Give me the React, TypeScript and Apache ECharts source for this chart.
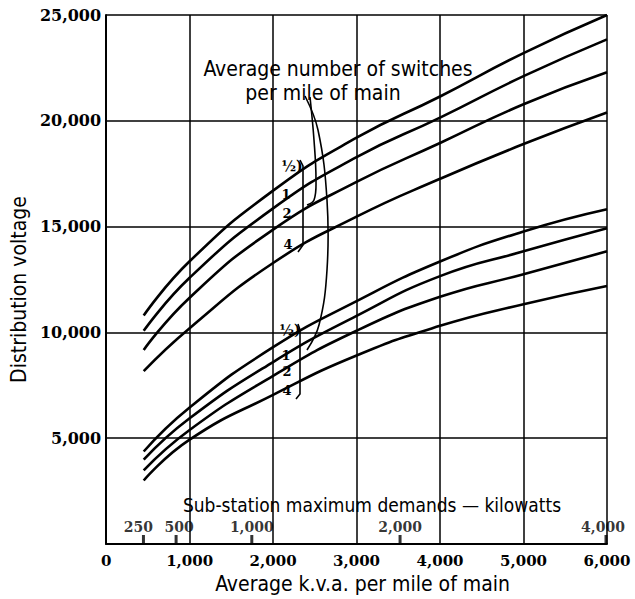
import React, { useEffect, useRef } from "react";
import * as echarts from "echarts";

// x positions (Average k.v.a. per mile of main)
const kva = [450, 1000, 2000, 3000, 4000, 5000, 6000];
// upper family of curves
const upperHalf = [10800, 13360, 16700, 19200, 21150, 23200, 25000];
const upperOne = [10075, 12580, 15860, 18280, 20150, 22110, 23850];
const upperTwo = [9170, 11640, 14860, 17110, 18950, 20780, 22290];
const upperFour = [8170, 10200, 13280, 15470, 17260, 18900, 20390];
// lower family of curves
const lowerHalf = [4372, 6450, 9300, 11480, 13350, 14770, 15820];
const lowerOne = [3986, 5940, 8600, 10780, 12660, 13830, 14920];
const lowerTwo = [3482, 5390, 7950, 10080, 11680, 12750, 13830];
const lowerFour = [3000, 4930, 7050, 8910, 10310, 11330, 12190];

// secondary scale: sub-station maximum demands (kW) placed at k.v.a. positions
const kwTickLabels = ["250", "500", "1,000", "2,000", "4,000"];
const kwTickKva = [447, 838, 1745, 3521, 5988];
const kwLabelShift = [-5, 3, 0, 0, -3];

const xTicks = { min: 0, max: 6000, interval: 1000 };
const yTicks = { min: 0, max: 25000, interval: 5000 };

const NUM_FONT = "'DejaVu Serif', serif";
const TXT_FONT = "'DejaVu Sans Condensed', 'Liberation Sans Narrow', 'DejaVu Sans', sans-serif";

const fmt = (v: number) => v.toLocaleString("en-US");

export default function App() {
  const ref = useRef<HTMLDivElement>(null);
  useEffect(() => {
    document.body.style.margin = "0";
    const chart = echarts.init(ref.current!, undefined, { renderer: "svg" });
    const families = [upperHalf, upperOne, upperTwo, upperFour, lowerHalf, lowerOne, lowerTwo, lowerFour];
    const lineSeries = families.map((vals) => ({
      type: "line",
      data: kva.map((x, i) => [x, vals[i]]),
      smooth: 0.5,
      symbol: "none",
      lineStyle: { color: "#000", width: 2.6 },
      z: 5,
    }));
    const kwSeries = {
      type: "scatter",
      clip: false,
      data: kwTickKva.map((x, i) => ({
        value: [x, 0],
        name: kwTickLabels[i],
        label: { offset: [kwLabelShift[i], 0] },
      })),
      symbol: "rect",
      symbolSize: [3, 9],
      symbolOffset: [0, -4.5],
      itemStyle: { color: "#000" },
      label: {
        show: true,
        position: "top",
        distance: 1,
        formatter: (p: any) => p.name,
        color: "#000",
        fontFamily: NUM_FONT,
        fontWeight: "bold",
        fontSize: 14,
      },
      z: 6,
    };
    const txt = (text: string, x: number, y: number, size: number, align = "center", weight = "normal", family = TXT_FONT) => ({
      type: "text",
      x,
      y,
      z: 20,
      style: {
        text,
        fill: "#000",
        fontSize: size,
        fontFamily: family,
        fontWeight: weight,
        textAlign: align,
        textVerticalAlign: "middle",
      },
    });
    const line = (points: number[][], smooth = 0) => ({
      type: "polyline",
      z: 20,
      shape: { points, smooth },
      style: { stroke: "#000", lineWidth: 1.6, fill: "none" },
    });
    chart.setOption({
      animation: false,
      backgroundColor: "#fff",
      grid: { left: 106, right: 28, top: 15, bottom: 51 },
      xAxis: {
        type: "value",
        ...xTicks,
        name: "Average k.v.a. per mile of main",
        nameLocation: "middle",
        nameGap: 29,
        nameTextStyle: { color: "#000", fontFamily: TXT_FONT, fontSize: 21, padding: [0, 0, 0, 12] },
        axisLine: { show: true, lineStyle: { color: "#000", width: 2 } },
        axisTick: { show: false },
        axisLabel: {
          formatter: (v: number) => fmt(v),
          color: "#000",
          fontFamily: NUM_FONT,
          fontWeight: "bold",
          fontSize: 15,
          margin: 9,
        },
        splitLine: { show: true, lineStyle: { color: "#000", width: 1.5 } },
      },
      yAxis: {
        type: "value",
        ...yTicks,
        name: "Distribution voltage",
        nameLocation: "middle",
        nameRotate: 90,
        nameGap: 62,
        nameTextStyle: { color: "#000", fontFamily: TXT_FONT, fontSize: 21, padding: [0, 20, 0, 0] },
        axisLine: { show: true, lineStyle: { color: "#000", width: 2 } },
        axisTick: { show: false },
        axisLabel: {
          formatter: (v: number) => (v === 0 ? "" : fmt(v)),
          color: "#000",
          fontFamily: NUM_FONT,
          fontWeight: "bold",
          fontSize: 16,
          margin: 5,
        },
        splitLine: { show: true, lineStyle: { color: "#000", width: 1.5 } },
      },
      series: [...lineSeries, kwSeries],
      graphic: [
        txt("Average number of switches", 338, 69, 21),
        txt("per mile of main", 323, 93, 21),
        txt("Sub-station maximum demands \u2014 kilowatts", 372, 505, 19),
        // bracket labels, upper family
        txt("\u00bd)", 292, 166, 14, "center", "bold", NUM_FONT),
        txt("1", 286, 194, 13, "center", "bold", NUM_FONT),
        txt("2", 287, 213, 13, "center", "bold", NUM_FONT),
        txt("4", 288, 244, 13, "center", "bold", NUM_FONT),
        // bracket labels, lower family
        txt("\u00bd)", 290, 330, 14, "center", "bold", NUM_FONT),
        txt("1", 286, 355, 13, "center", "bold", NUM_FONT),
        txt("2", 287, 371, 13, "center", "bold", NUM_FONT),
        txt("4", 287, 390, 13, "center", "bold", NUM_FONT),
        line([[300, 160], [303, 166], [303, 245], [298, 252]]),
        line([[298, 324], [300, 330], [300, 394], [296, 399]]),
        line([[310, 97], [314, 140], [316, 180], [314, 200], [307, 205]], 0.4),
        line([[305, 96], [318, 130], [327, 200], [327, 270], [319, 325], [307, 350]], 0.4),
      ],
    });
    return () => chart.dispose();
  }, []);
  return <div ref={ref} style={{ width: 635, height: 599 }} />;
}
